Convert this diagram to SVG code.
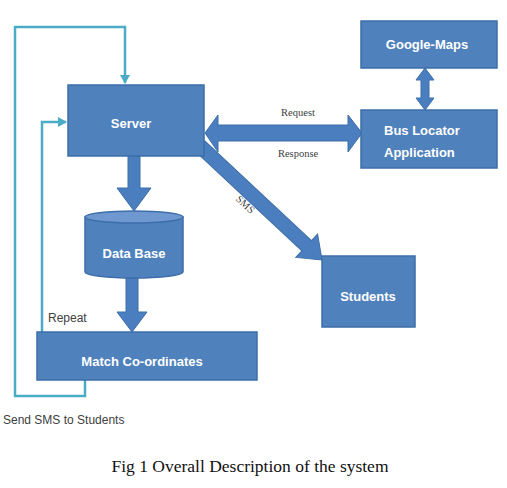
<svg xmlns="http://www.w3.org/2000/svg" width="507" height="488" viewBox="0 0 507 488">
<defs>
<style>
.box{fill:#4F81BD;stroke:#3D6EA9;stroke-width:1.5}
.lbl{font-family:"Liberation Sans",Arial,sans-serif;font-weight:bold;font-size:13px;fill:#fff}
.thick{fill:#4A7EBF;stroke:#3D6EA9;stroke-width:1}
.loop{fill:none;stroke:#4BACC6;stroke-width:2.5}
.note{font-family:"Liberation Sans",Arial,sans-serif;font-size:12px;fill:#404040}
.ser{font-family:"Liberation Serif","Times New Roman",serif;font-size:10.5px;fill:#404040}
</style>
<marker id="ah" markerWidth="10" markerHeight="10" refX="8" refY="5" orient="auto" markerUnits="userSpaceOnUse">
<path d="M0,0 L9,5 L0,10 Z" fill="#4BACC6"/>
</marker>
</defs>
<rect width="507" height="488" fill="#fff"/>
<g id="connectors">
<path class="loop" d="M85,380 V396 H15 V27 H125 V83" marker-end="url(#ah)"/>
<path class="loop" d="M42,332 V122 H66" marker-end="url(#ah)"/>
<g transform="translate(200,146) rotate(43.06)">
<polygon class="thick" points="0,-7 146,-7 146,-16 167,0 146,16 146,7 0,7"/>
</g>
<polygon class="thick" points="128,155 140,155 140,188 151,188 134,211 117,188 128,188"/>
<polygon class="thick" points="126,277 138,277 138,312 147,312 132,332 117,312 126,312"/>
<polygon class="thick" points="205,133 218,115 218,125 348,125 348,115 362,133 348,152 348,141 218,141 218,152"/>
<polygon class="thick" points="425,68 434,80 429,80 429,98 434,98 425,110 416,98 421,98 421,80 416,80"/>
<text class="ser" x="298" y="116" text-anchor="middle">Request</text>
<text class="ser" x="298" y="157" text-anchor="middle">Response</text>
<text class="ser" transform="translate(243,207) rotate(43)" text-anchor="middle">SMS</text>
<text class="note" x="48" y="322">Repeat</text>
<text class="note" x="3" y="424">Send SMS to Students</text>
</g>
<g id="server">
<rect class="box" x="68" y="85" width="136" height="71"/>
<text class="lbl" x="131" y="128" text-anchor="middle" font-size="16">Server</text>
</g>
<g id="database">
<path class="box" d="M85,217 V272 A49,6 0 0 0 183,272 V217 Z"/>
<ellipse cx="134" cy="217" rx="49" ry="6" fill="#6E98CF" stroke="#3D6EA9" stroke-width="1.5"/>
<text class="lbl" x="134" y="258" text-anchor="middle">Data Base</text>
</g>
<g id="match">
<rect class="box" x="37" y="332" width="220" height="48"/>
<text class="lbl" x="142" y="366" text-anchor="middle">Match Co-ordinates</text>
</g>
<g id="googlemaps">
<rect class="box" x="361" y="21" width="136" height="47"/>
<text class="lbl" x="427" y="49" text-anchor="middle">Google-Maps</text>
</g>
<g id="buslocator">
<rect class="box" x="361" y="110" width="136" height="58"/>
<text class="lbl" x="384" y="135">Bus Locator</text>
<text class="lbl" x="384" y="157">Application</text>
</g>
<g id="students">
<rect class="box" x="322" y="256" width="93" height="71"/>
<text class="lbl" x="368" y="301" text-anchor="middle">Students</text>
</g>
<text x="250" y="472" text-anchor="middle" font-family="Liberation Serif,'Times New Roman',serif" font-size="17.5" fill="#111">Fig 1 Overall Description of the system</text>
</svg>
